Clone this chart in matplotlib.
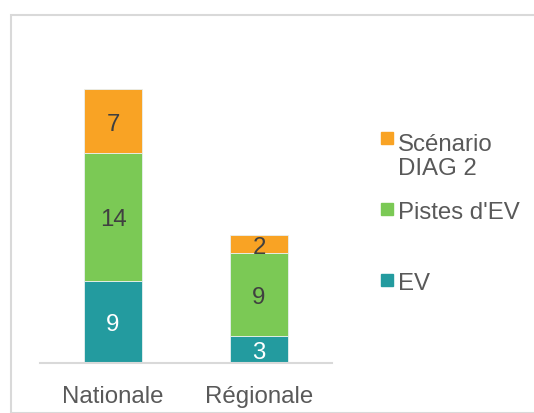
import matplotlib.pyplot as plt
from matplotlib.patches import Rectangle

plt.rcParams['font.family'] = ['Liberation Sans', 'DejaVu Sans']

categories = ['Nationale', 'Régionale']
ev = [9, 3]
pistes = [14, 9]
diag2 = [7, 2]

series = [
    ("EV", ev, '#239B9F', 'white'),
    ("Pistes d'EV", pistes, '#7BC955', '#404040'),
    ("Scénario\nDIAG 2", diag2, '#F9A324', '#404040'),
]

W, H = 534, 414
fig = plt.figure(figsize=(W / 100, H / 100), dpi=100)

# cadre gris autour du graphique
fig.patches.append(Rectangle((10.5 / W, 0), 1, 1 - 15.5 / H, transform=fig.transFigure,
                             fill=False, edgecolor='#D9D9D9', linewidth=1.5))

# zone de tracé (pixels -> fraction)
left, right, bottom, top = 40, 332, 364, 44.5
ax = fig.add_axes([left / W, 1 - bottom / H, (right - left) / W, (bottom - top) / H])

x = range(len(categories))
base = [0] * len(categories)
for name, vals, col, txtcol in series:
    bars = ax.bar(x, vals, width=0.4, bottom=base, color=col, edgecolor='#E8F0F0', linewidth=0.6)
    for b, v, b0 in zip(bars, vals, base):
        ax.text(b.get_x() + b.get_width() / 2, b0 + v / 2, str(v), ha='center', va='center_baseline',
                fontsize=17.3, color=txtcol)
    base = [a + v for a, v in zip(base, vals)]

ax.set_xlim(-0.5, 1.5)
ax.set_ylim(0, 35)
ax.set_xticks(list(x))
ax.set_xticklabels(categories, fontsize=17.3, color='#595959')
ax.tick_params(axis='x', length=0, pad=16)
ax.set_yticks([])
for s in ['top', 'right', 'left']:
    ax.spines[s].set_visible(False)
ax.spines['bottom'].set_color('#D9D9D9')
ax.spines['bottom'].set_linewidth(1.5)

# légende (ordre inverse, comme Excel)
leg_y = [139, 210, 281]
for (name, vals, col, txtcol), yc in zip(series[::-1], leg_y):
    fig.patches.append(Rectangle((381 / W, 1 - (yc + 6) / H), 12 / W, 12 / H,
                                 transform=fig.transFigure, color=col))
    nl = name.count('\n')
    fig.text(398 / W, 1 - (yc + 9 + 27 * nl) / H, name, fontsize=17.3, color='#595959',
             ha='left', va='baseline', linespacing=1.12)

fig.savefig('out.png', dpi=100)
